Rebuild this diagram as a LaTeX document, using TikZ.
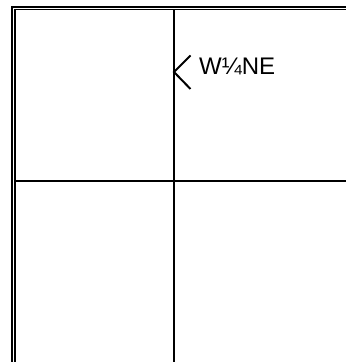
\documentclass[tikz,border=0pt]{standalone}
\usepackage{fontspec}
\setmainfont{Liberation Sans}
\usetikzlibrary{positioning}
\definecolor{ink}{RGB}{0,0,0}
\tikzset{
  frame/.style={draw=ink,line width=2.4pt},
  inframe/.style={draw=ink,line width=1.4pt},
  grid/.style={draw=ink,line width=2.4pt},
  chev/.style={draw=ink,line width=2pt},
  tag/.style={font=\fontsize{24}{27}\selectfont,inner sep=0pt,anchor=base west},
}
\begin{document}
\begin{tikzpicture}[x=1pt,y=1pt]
  \useasboundingbox (0,0) rectangle (346,362);
  % section frame
  \draw[frame] (12,0) -- (12,355) -- (346,355);
  \draw[inframe] (14.8,0) -- (14.8,352.3) -- (346,352.3);
  % quarter lines
  \coordinate (Ntop) at (174,352.3);
  \coordinate (Sbot) at (174,0);
  \coordinate (Wmid) at (14.8,181);
  \coordinate (Emid) at (346,181);
  \draw[grid] (Ntop) -- (Sbot);
  \draw[grid] (Wmid) -- (Emid);
  % corner mark
  \coordinate (cv) at (174,290);
  \draw[chev] (190.5,306.5) -- (cv) -- (190.5,273);
  \node[tag] (lbl) at (199,287) {W¼NE};
\end{tikzpicture}
\end{document}
